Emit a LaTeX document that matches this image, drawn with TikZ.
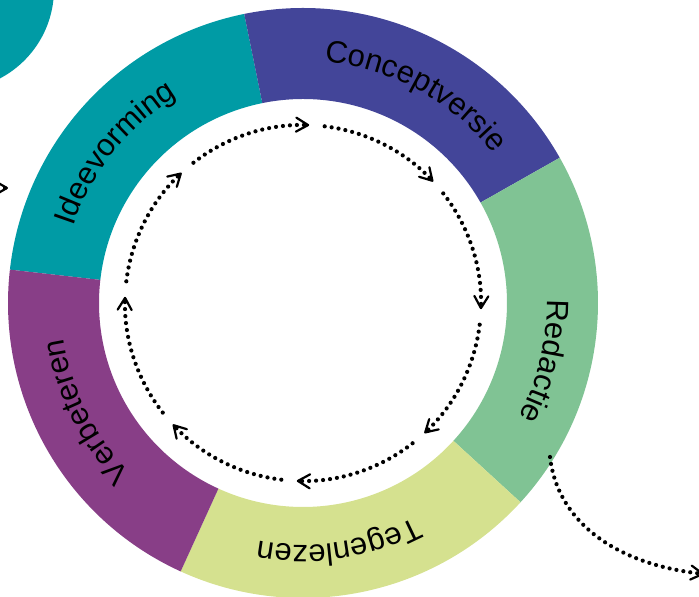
\documentclass[tikz,border=0pt]{standalone}
\usepackage{fontspec}
\setsansfont{Liberation Sans}
\usepackage{tikz}
\usetikzlibrary{arrows.meta,decorations.text}
\definecolor{ideeteal}{RGB}{0,155,165}
\definecolor{conceptblue}{RGB}{67,69,153}
\definecolor{redactiegreen}{RGB}{128,195,148}
\definecolor{tegenlime}{RGB}{213,225,143}
\definecolor{verbeterplum}{RGB}{136,62,135}
\newcommand{\phasefont}{\sffamily\fontsize{31}{36}\selectfont}
\tikzset{%
  phase label/.style={
    decorate,
    decoration={text along path, text align=center, text={|\phasefont|#1}}
  },
  dot line/.style={
    line width=4.2pt,
    line cap=round,
    dash pattern=on 0pt off 7pt,
    -{Straight Barb[length=12pt,width=14pt,line width=2.2pt,round]}
  },
}
\begin{document}
\begin{tikzpicture}[x=1pt, y=1pt]
\useasboundingbox (0,0) rectangle (699,597);
\clip (0,0) rectangle (699,597);

% corner of the previous circle
\fill[ideeteal] (-47,608) circle[radius=101];

\begin{scope}[shift={(303,294)}]
% ring parts
\foreach \a/\b/\c in {101.5/173.5/ideeteal, 29.5/101.5/conceptblue, -42.5/29.5/redactiegreen, -114.5/-42.5/tegenlime, 173.5/245.5/verbeterplum}
  \fill[\c] (\a:295) arc[start angle=\a, end angle=\b, radius=295]
    -- (\b:204) arc[start angle=\b, end angle=\a, radius=204] -- cycle;

% labels, clockwise
\path[phase label=Ideevorming] (176.5:242) arc[start angle=176.5, end angle=106.5, radius=242];
\path[phase label=Conceptversie] (96.5:242) arc[start angle=96.5, end angle=26.5, radius=242];
\path[phase label=Redactie] (21.5:244) arc[start angle=21.5, end angle=-48.5, radius=244];
\path[phase label=Tegenlezen] (-46.5:242) arc[start angle=-46.5, end angle=-116.5, radius=242];
\path[phase label=Verbeteren] (241.5:242) arc[start angle=241.5, end angle=171.5, radius=242];

% inner cycle
\foreach \t in {88,43,...,-227}
  \draw[dot line] ({\t+40}:178) arc[start angle=\t+40, end angle=\t, radius=178];
\end{scope}

\coordinate (from prev) at (-30,409);
\coordinate (prev tip) at (8,409);
\draw[dot line] (from prev) -- (prev tip);

\coordinate (redactie out) at (550,140);
\coordinate (next step) at (704,23);
\draw[dot line] (redactie out) .. controls (557,78) and (612,33) .. (next step);

\end{tikzpicture}
\end{document}
